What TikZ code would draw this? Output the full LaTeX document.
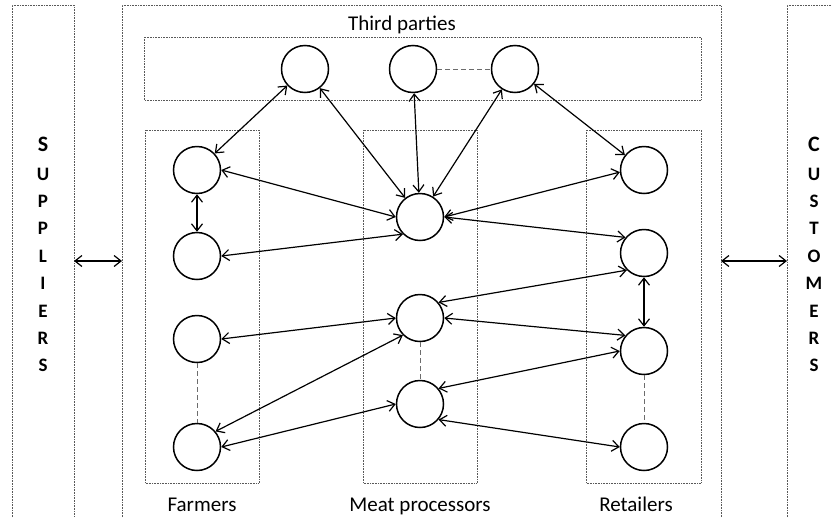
\documentclass[tikz,border=0pt]{standalone}
\usepackage{fontspec}
\setmainfont{Carlito}
\usetikzlibrary{arrows.meta}

\begin{document}
\begin{tikzpicture}[x=1pt,y=-1pt,
  actor/.style={circle, draw, line width=1.5pt, minimum size=47pt, inner sep=0pt},
  link/.style={line width=1.2pt, {Straight Barb[length=7pt,width=11pt]}-{Straight Barb[length=7pt,width=11pt]}},
  gap/.style={dash pattern=on 5pt off 3pt, gray!85!black, line width=0.9pt},
  frame/.style={densely dotted, gray!70!black, line width=0.6pt},
  letter/.style={font=\fontsize{19}{19}\bfseries\selectfont, inner sep=0pt},
  initial/.style={font=\fontsize{22}{22}\bfseries\selectfont, inner sep=0pt},
  group/.style={font=\fontsize{21}{25}\selectfont, anchor=base, inner sep=0pt}]
\useasboundingbox (0,0) rectangle (832,517);
% outer frames:
\draw[frame] (12,517) -- (12,5) -- (74,5) -- (74,517);
\draw[frame] (122,517) -- (122,5) -- (721,5) -- (721,517);
\draw[frame] (787,517) -- (787,5) -- (840,5);
% inner frames:
\draw[frame] (144,37) rectangle (701,100);
\draw[frame] (145,130) rectangle (259,483);
\draw[frame] (363,130) rectangle (477,483);
\draw[frame] (586,130) rectangle (701,483);
% group labels:
\node[group] (thirdlbl) at (402,30) {Third parties};
\node[group] (farmlbl) at (202,511) {Farmers};
\node[group] (meatlbl) at (420,511) {Meat processors};
\node[group] (retaillbl) at (636,511) {Retailers};
% suppliers and customers:
\node[initial] (sup0) at (43,144) {S};
\foreach \ch [count=\i] in {U,P,P,L,I,E,R,S}
  \node[letter] (sup\i) at (43,{174+27.4*(\i-1)}) {\ch};
\node[initial] (cus0) at (814,144) {C};
\foreach \ch [count=\i] in {U,S,T,O,M,E,R,S}
  \node[letter] (cus\i) at (814,{174+27.4*(\i-1)}) {\ch};
\coordinate (supedge) at (74,261);
\coordinate (leftedge) at (122,261);
\coordinate (rightedge) at (721,261);
\coordinate (cusedge) at (787,261);
\draw[link] (supedge) -- (leftedge);
\draw[link] (rightedge) -- (cusedge);
% third parties:
\node[actor] (tp1) at (305,69) {};
\node[actor] (tp2) at (413,69) {};
\node[actor] (tp3) at (515,69) {};
% farmers:
\node[actor] (f1) at (197,170) {};
\node[actor] (f2) at (197,256) {};
\node[actor] (f3) at (197,339) {};
\node[actor] (f4) at (197,447) {};
% meat processors:
\node[actor] (m1) at (420,217) {};
\node[actor] (m2) at (420,318) {};
\node[actor] (m3) at (420,404) {};
% retailers:
\node[actor] (r1) at (644,170) {};
\node[actor] (r2) at (644,253) {};
\node[actor] (r3) at (644,351) {};
\node[actor] (r4) at (644,447) {};
% dashed gaps:
\draw[gap] (tp2) -- (tp3);
\draw[gap] (f3) -- (f4);
\draw[gap] (m2) -- (m3);
\draw[gap] (r3) -- (r4);
% links:
\draw[link] (tp1) -- (f1);
\draw[link] (tp1) -- (m1);
\draw[link] (tp2) -- (m1);
\draw[link] (tp3) -- (m1);
\draw[link] (tp3) -- (r1);
\draw[link] (f1) -- (f2);
\draw[link] (f1.east) -- (m1.west);
\draw[link] (f2.east) -- (m1.225);
\draw[link] (m1.east) -- (r1.185);
\draw[link] (m1.east) -- (r2.140);
\draw[link] (r2) -- (r3);
\draw[link] (r2.225) -- (m2.40);
\draw[link] (f3.east) -- (m2.west);
\draw[link] (f4.40) -- (m2.225);
\draw[link] (m2.east) -- (r3.140);
\draw[link] (f4.east) -- (m3.west);
\draw[link] (m3.40) -- (r3.west);
\draw[link] (m3.320) -- (r4.west);
\end{tikzpicture}
\end{document}
